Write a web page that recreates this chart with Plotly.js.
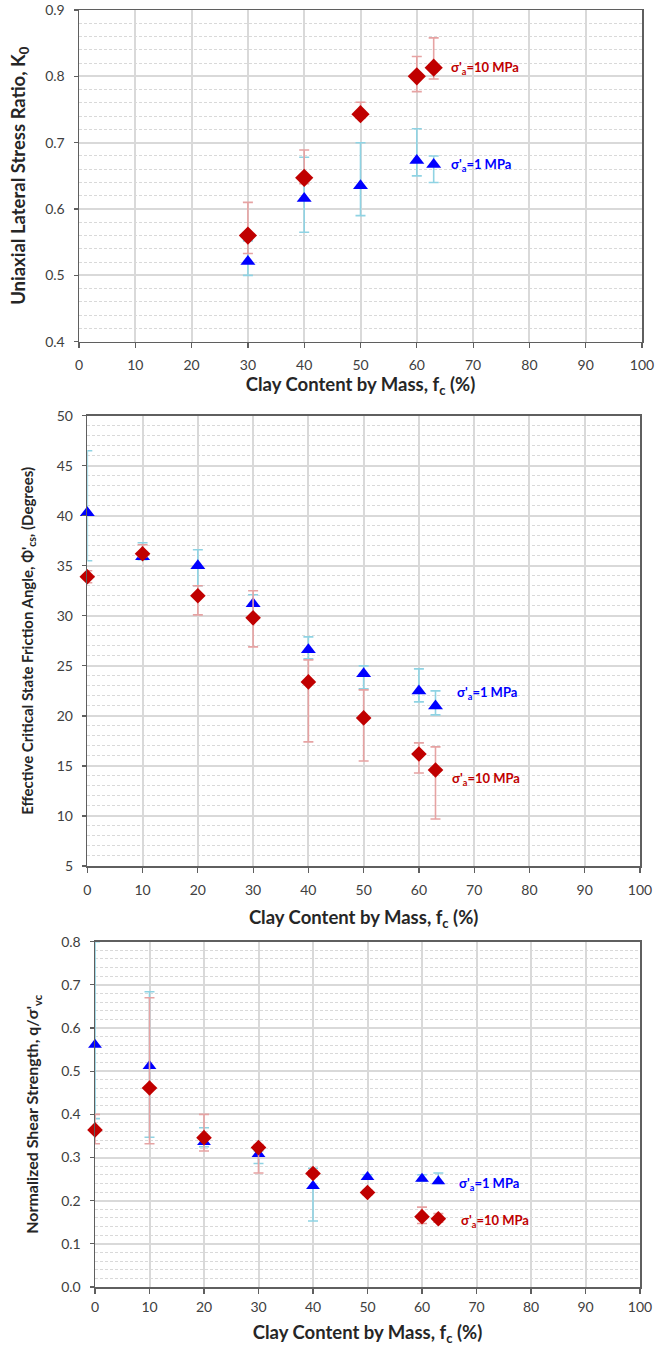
<!DOCTYPE html>
<html>
<head>
<meta charset="utf-8">
<script src="https://cdn.plot.ly/plotly-3.0.1.min.js"></script>
<style>html,body{margin:0;padding:0;background:#fff;}#chart{width:655px;height:1346px;}</style>
</head>
<body>
<div id="chart"></div>
<script>
// ---- Panel 1: K0 ----
const k0X = [30, 40, 50, 60, 63];
const k0Blue = [0.521, 0.616, 0.635, 0.673, 0.667];
const k0BlueHigh = [0.552, 0.678, 0.700, 0.721, 0.680];
const k0BlueLow = [0.500, 0.565, 0.590, 0.650, 0.640];
const k0Red = [0.560, 0.647, 0.743, 0.800, 0.813];
const k0RedHigh = [0.610, 0.689, 0.761, 0.830, 0.858];
const k0RedLow = [0.533, 0.638, 0.737, 0.777, 0.796];

// ---- Panel 2: friction angle ----
const phiX = [0, 10, 20, 30, 40, 50, 60, 63];
const phiBlue = [40.3, 35.9, 35.0, 31.2, 26.6, 24.2, 22.5, 21.0];
const phiBlueHigh = [46.5, 37.3, 36.6, 32.1, 27.9, 25.0, 24.7, 22.5];
const phiBlueLow = [35.5, 35.6, 33.0, 29.6, 25.7, 22.7, 21.4, 20.1];
const phiRed = [33.9, 36.2, 32.0, 29.8, 23.4, 19.8, 16.2, 14.6];
const phiRedHigh = [34.5, 37.1, 33.0, 32.5, 25.6, 22.6, 17.3, 16.9];
const phiRedLow = [33.3, 35.9, 30.1, 26.9, 17.4, 15.5, 14.3, 9.7];

// ---- Panel 3: normalized shear strength ----
const qX = [0, 10, 20, 30, 40, 50, 60, 63];
const qBlue = [0.561, 0.512, 0.336, 0.308, 0.234, 0.255, 0.251, 0.245];
const qBlueHigh = [0.80, 0.684, 0.369, 0.315, 0.275, 0.260, 0.260, 0.264];
const qBlueLow = [0.39, 0.347, 0.325, 0.286, 0.153, 0.250, 0.245, 0.240];
const qRed = [0.364, 0.461, 0.346, 0.323, 0.263, 0.219, 0.163, 0.158];
const qRedHigh = [0.400, 0.670, 0.400, 0.330, 0.270, 0.224, 0.185, 0.170];
const qRedLow = [0.332, 0.332, 0.315, 0.264, 0.256, 0.214, 0.147, 0.150];

const xTicks = [0, 10, 20, 30, 40, 50, 60, 70, 80, 90, 100];
const labelBlue = "σ'<sub>a</sub>=1 MPa";
const labelRed = "σ'<sub>a</sub>=10 MPa";

const RED = '#c00000', BLUE = '#0000ff';
const RED_ERR = '#e6a3a3', BLUE_ERR = '#8fd3e3';
const FONT = 'Lato, "Open Sans", sans-serif';

function diff(a, b) { return a.map((v, i) => v - b[i]); }

function series(x, y, hi, lo, color, errColor, symbol, xa, ya, size) {
  return {
    type: 'scatter', mode: 'markers', x: x, y: y, xaxis: xa, yaxis: ya,
    cliponaxis: false, showlegend: false, hoverinfo: 'x+y',
    marker: { symbol: symbol, color: color, size: size, line: { width: 0 } },
    error_y: { type: 'data', symmetric: false, array: diff(hi, y), arrayminus: diff(y, lo),
      color: errColor, thickness: 1.6, width: 5 }
  };
}

const traces = [
  series(k0X, k0Blue, k0BlueHigh, k0BlueLow, BLUE, BLUE_ERR, 'triangle-up', 'x', 'y', 13),
  series(k0X, k0Red, k0RedHigh, k0RedLow, RED, RED_ERR, 'diamond', 'x', 'y', 14),
  series(phiX, phiBlue, phiBlueHigh, phiBlueLow, BLUE, BLUE_ERR, 'triangle-up', 'x2', 'y2', 13),
  series(phiX, phiRed, phiRedHigh, phiRedLow, RED, RED_ERR, 'diamond', 'x2', 'y2', 12),
  series(qX, qBlue, qBlueHigh, qBlueLow, BLUE, BLUE_ERR, 'triangle-up', 'x3', 'y3', 12),
  series(qX, qRed, qRedHigh, qRedLow, RED, RED_ERR, 'diamond', 'x3', 'y3', 12)
];

function xAxis(domain, anchor, labelGap, titleGap) {
  return {
    domain: domain, anchor: anchor, range: [0, 100], tickvals: xTicks,
    showgrid: true, gridcolor: '#d9d9d9', gridwidth: 2, zeroline: false,
    showline: true, linecolor: '#5f5f5f', linewidth: 1.5, mirror: true,
    ticks: 'outside', ticklen: 5, tickcolor: '#5f5f5f', tickwidth: 1.2,
    ticklabelstandoff: labelGap,
    tickfont: { family: FONT, size: 14, color: '#404040' },
    title: { text: 'Clay Content by Mass, f<sub>c</sub> (%)', standoff: titleGap,
      font: { family: FONT, size: 18.5, color: '#262626', weight: 'bold' } }
  };
}
function yAxis(domain, anchor, range, dtick, minor, fmt, title, tsize, tgap) {
  return {
    domain: domain, anchor: anchor, range: range, dtick: dtick, tick0: range[0], tickformat: fmt,
    showgrid: true, gridcolor: '#d9d9d9', gridwidth: 2, zeroline: false,
    showline: true, linecolor: '#5f5f5f', linewidth: 1.5, mirror: true,
    ticks: 'outside', ticklen: 4, tickcolor: '#5f5f5f', tickwidth: 1.2,
    ticklabelstandoff: 6,
    tickfont: { family: FONT, size: 14, color: '#404040' },
    minor: { dtick: minor, tick0: range[0], showgrid: true, gridcolor: '#d9d9d9', griddash: '3px,2px', gridwidth: 1, ticks: '' },
    title: { text: title, standoff: tgap, font: { family: FONT, size: tsize, color: '#262626', weight: 'bold' } }
  };
}

function ann(x, y, text, color, xref, yref) {
  return { x: x, y: y, xref: xref, yref: yref, text: text, showarrow: false, xanchor: 'left', yanchor: 'middle',
    font: { family: FONT, size: 13, color: color, weight: 'bold' } };
}

const layout = {
  width: 655, height: 1346, margin: { l: 0, r: 0, t: 0, b: 0 },
  paper_bgcolor: '#ffffff', plot_bgcolor: '#ffffff',
  font: { family: FONT },
  xaxis: xAxis([79 / 655, 642 / 655], 'y', 5, 2),
  yaxis: yAxis([1 - 341.7 / 1346, 1 - 10 / 1346], 'x', [0.4, 0.9], 0.1, 0.02, '.1f',
    'Uniaxial Lateral Stress Ratio, K<sub>0</sub>', 18.5, 14),
  xaxis2: xAxis([87.3 / 655, 640 / 655], 'y2', 6, 14),
  yaxis2: yAxis([1 - 866 / 1346, 1 - 415.7 / 1346], 'x2', [5, 50], 5, 1, 'd',
    "Effective Critical State Friction Angle, Φ'<sub>cs</sub>, (Degrees)", 15, 19),
  xaxis3: xAxis([95 / 655, 640 / 655], 'y3', 2, 18),
  yaxis3: yAxis([1 - 1287 / 1346, 1 - 941.7 / 1346], 'x3', [0, 0.8], 0.1, 0.02, '.1f',
    "Normalized Shear Strength, q/σ'<sub>vc</sub>", 16, 18),
  annotations: [
    ann(65.8, 0.813, labelRed, RED, 'x', 'y'),
    ann(65.8, 0.666, labelBlue, BLUE, 'x', 'y'),
    ann(66.5, 22.3, labelBlue, BLUE, 'x2', 'y2'),
    ann(65.6, 13.7, labelRed, RED, 'x2', 'y2'),
    ann(66.4, 0.239, labelBlue, BLUE, 'x3', 'y3'),
    ann(66.8, 0.154, labelRed, RED, 'x3', 'y3')
  ]
};

Plotly.newPlot('chart', traces, layout, { staticPlot: true, displayModeBar: false });
</script>
</body>
</html>
